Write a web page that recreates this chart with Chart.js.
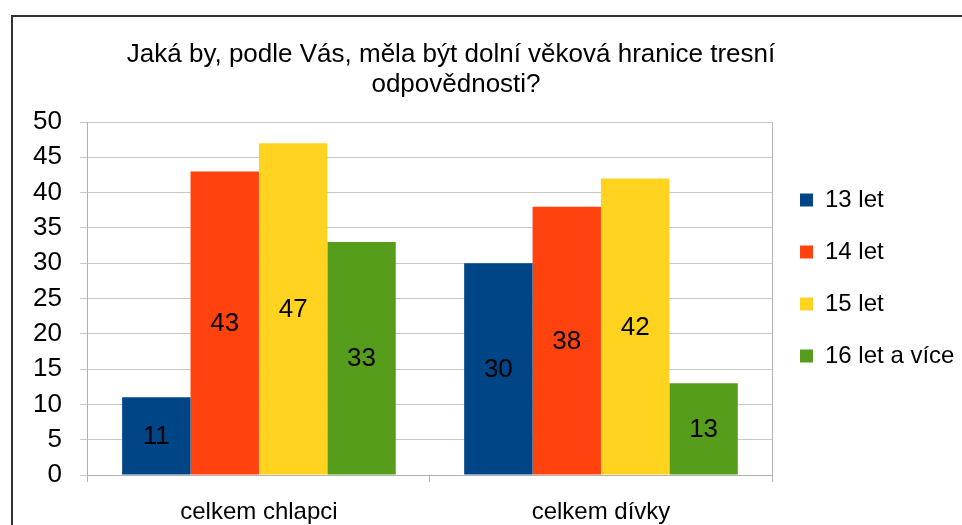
<!DOCTYPE html>
<html lang="cs">
<head>
<meta charset="utf-8">
<title>Dolní věková hranice trestní odpovědnosti</title>
<script src="https://cdn.jsdelivr.net/npm/chart.js@4.4.1/dist/chart.umd.min.js"></script>
<style>
  html, body { margin: 0; padding: 0; background: #fff; }
  #wrap { position: relative; width: 962px; height: 525px; }
</style>
</head>
<body>
<div id="wrap"><canvas id="graf"></canvas></div>
<script>
// data z grafu
const kategorie = ['celkem chlapci', 'celkem dívky'];
const nazvyRad = ['13 let', '14 let', '15 let', '16 let a více'];
const let13 = [11, 30];
const let14 = [43, 38];
const let15 = [47, 42];
const let16 = [33, 13];
const barvy = ['#004586', '#ff420e', '#ffd320', '#579d1c'];
const titulek = ['Jaká by, podle Vás, měla být dolní věková hranice tresní', 'odpovědnosti?'];
const osaYMax = 50;
const osaYKrok = 5;

const pismo = '"Liberation Sans", Arial, sans-serif';
const seda = '#b3b3b3';

// rámeček a nadpis
const ramecek = {
  id: 'ramecek',
  beforeDraw(chart) {
    const ctx = chart.ctx;
    ctx.save();
    ctx.fillStyle = '#ffffff';
    ctx.fillRect(0, 0, chart.width, chart.height);
    ctx.fillStyle = '#333333';
    ctx.fillRect(11, 15, 2, chart.height - 15);
    ctx.fillRect(11, 15, chart.width - 11, 2);
    ctx.fillStyle = '#000';
    ctx.font = '26px ' + pismo;
    ctx.textAlign = 'center';
    ctx.textBaseline = 'alphabetic';
    ctx.fillText(titulek[0], 451, 62);
    ctx.fillText(titulek[1], 456, 92);
    ctx.restore();
  }
};

// hodnoty uprostřed sloupců
const popisky = {
  id: 'popisky',
  afterDatasetsDraw(chart) {
    const ctx = chart.ctx;
    ctx.save();
    ctx.fillStyle = '#000';
    ctx.font = '26px ' + pismo;
    ctx.textAlign = 'center';
    ctx.textBaseline = 'middle';
    chart.data.datasets.forEach((ds, i) => {
      chart.getDatasetMeta(i).data.forEach((bar, j) => {
        ctx.fillText(String(ds.data[j]), bar.x, (bar.y + bar.base) / 2 + 1);
      });
    });
    ctx.restore();
  }
};

const rady = [let13, let14, let15, let16];

new Chart(document.getElementById('graf'), {
  type: 'bar',
  data: {
    labels: kategorie,
    datasets: rady.map((hodnoty, i) => ({
      label: nazvyRad[i],
      data: hodnoty,
      backgroundColor: barvy[i],
      borderWidth: 0,
      categoryPercentage: 0.8,
      barPercentage: 1.0
    }))
  },
  options: {
    responsive: true,
    maintainAspectRatio: false,
    animation: false,
    layout: { padding: { top: 122, left: 15, right: 0, bottom: -17 } },
    plugins: {
      title: { display: false },
      tooltip: { enabled: false },
      legend: {
        position: 'right',
        align: 'start',
        fullSize: false,
        maxWidth: 190,
        title: { display: true, text: ' ', font: { size: 20 }, padding: { top: 0, bottom: 14 } },
        labels: {
          boxWidth: 13,
          boxHeight: 13,
          padding: 28,
          color: '#000',
          font: { family: pismo, size: 24 }
        }
      }
    },
    scales: {
      x: {
        grid: {
          offset: true,
          drawOnChartArea: true,
          tickLength: 7,
          tickColor: seda,
          color: ctx => (ctx.type === 'scale' ? seda : 'rgba(0,0,0,0)')
        },
        border: { color: seda },
        ticks: {
          color: '#000',
          padding: 18,
          font: { family: pismo, size: 24, lineHeight: 1 }
        }
      },
      y: {
        min: 0,
        max: osaYMax,
        grid: { color: '#c8c8c8', tickLength: 8 },
        border: { color: seda },
        ticks: {
          stepSize: osaYKrok,
          color: '#000',
          padding: 18,
          font: { family: pismo, size: 26 }
        }
      }
    }
  },
  plugins: [ramecek, popisky]
});
</script>
</body>
</html>
